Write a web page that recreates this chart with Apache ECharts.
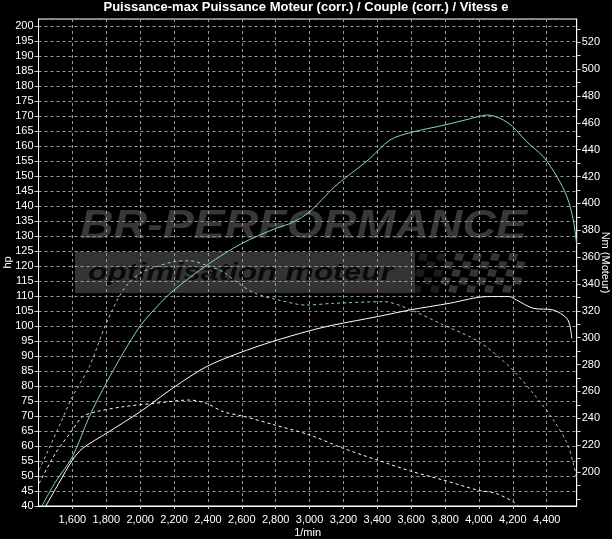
<!DOCTYPE html>
<html>
<head>
<meta charset="utf-8">
<script src="https://cdn.jsdelivr.net/npm/echarts@6/dist/echarts.min.js"></script>
<style>
html,body{margin:0;padding:0;background:#000;}
#chart{width:612px;height:539px;}
</style>
</head>
<body>
<div id="chart"></div>
<script>
// ---- data ----
const titleText = 'Puissance-max Puissance Moteur (corr.) / Couple (corr.) / Vitess e';

// tuned power (hp, left axis)
const rpmPowerTuned = [1420, 1500, 1600, 1700, 1800, 1900, 2000, 2100, 2200, 2400, 2600, 2800, 2900, 3000, 3150, 3350, 3475, 3600, 3800, 3930, 4050, 4125, 4200, 4280, 4380, 4460, 4520, 4557, 4577];
const hpPowerTuned  = [40, 48, 56.4, 69.8, 81, 91, 100, 106.5, 112, 120.5, 127.5, 132.5, 134.5, 138, 146.5, 155.5, 162, 164.5, 167, 168.8, 170.3, 169.2, 166.4, 161.5, 156.4, 149.8, 143, 135.3, 127];

// tuned torque (Nm, right axis)
const rpmTorqueTuned = [1404, 1500, 1600, 1700, 1800, 1900, 2000, 2100, 2200, 2290, 2390, 2490, 2580, 2680, 2820, 2980, 3140, 3440, 3600, 3790, 4000, 4180, 4320, 4440, 4520, 4560, 4577];
const nmTorqueTuned  = [201.5, 228, 256, 278.4, 310.7, 335.5, 348, 353, 356.6, 357.3, 354, 349, 340.5, 333, 328, 324.3, 325.6, 326.8, 320.6, 309.5, 297, 278.4, 258.6, 238.7, 221.4, 205, 194];

// stock power (hp, left axis)
const rpmPowerStock = [1443, 1520, 1600, 1660, 1800, 2000, 2190, 2390, 2580, 2780, 3000, 3140, 3400, 3590, 3830, 4050, 4180, 4220, 4320, 4440, 4518, 4538, 4548];
const hpPowerStock  = [40, 47.6, 55.3, 59.2, 64.2, 71.4, 79.2, 86.4, 90.9, 94.8, 98.4, 100.3, 103.1, 105.3, 107.6, 109.8, 109.8, 108.7, 105.9, 105.3, 102.6, 99.8, 95.9];

// stock torque (Nm, right axis)
const rpmTorqueStock = [1404, 1500, 1600, 1660, 1740, 1900, 2090, 2290, 2390, 2490, 2620, 2780, 3000, 3200, 3400, 3610, 3790, 3990, 4100, 4200, 4232];
const nmTorqueStock  = [191.6, 213.9, 231.3, 241.2, 244.9, 248.6, 251.2, 253.6, 251.2, 244.9, 241.2, 235.5, 227.6, 217.6, 208.9, 200.2, 194, 186.6, 184.1, 178, 174.7];

// axis ticks
const rightAxisLabels = [200, 220, 240, 260, 280, 300, 320, 340, 360, 380, 400, 420, 440, 460, 480, 500, 520];
const rightAxisTicks  = [180, 190, 200, 210, 220, 230, 240, 250, 260, 270, 280, 290, 300, 310, 320, 330, 340, 350, 360, 370, 380, 390, 400, 410, 420, 430, 440, 450, 460, 470, 480, 490, 500, 510, 520, 530];

// ---- chart ----
function pairs(xs, ys) { return xs.map((x, i) => [x, ys[i]]); }
function addCommas(v) { return String(Math.round(v)).replace(/\B(?=(\d{3})+(?!\d))/g, ','); }

const FONT = 'Liberation Sans Narrow, Liberation Sans, Arial, sans-serif';
const CYAN = '#86d3d0';

// watermark geometry helpers (decoration)
const mctx = document.createElement('canvas').getContext('2d');
function fitScale(text, font, width) { mctx.font = font; return width / mctx.measureText(text).width; }
const brFont = 'italic 900 40px "Liberation Sans", Arial, sans-serif';
const brScale = fitScale('BR-PERFORMANCE', brFont, 447);
const optFont = 'italic bold 24px "Liberation Sans", Arial, sans-serif';
const optScale = fitScale('optimisation moteur', optFont, 305);

const flag = [];
for (let r = 0; r < 5; r++) {
  for (let c = 0; c < 12; c++) {
    if ((r + c) % 2 === 0) {
      const x0 = 418 + c * 9 - r * 1.5;
      const y0 = 253 + r * 8;
      const fade = c < 3 ? 0.5 : 1;
      flag.push({
        type: 'polygon', silent: true, z: -10,
        shape: { points: [[x0 + 2, y0], [x0 + 10, y0 + 1], [x0 + 8, y0 + 8], [x0, y0 + 7]] },
        style: { fill: '#353535', opacity: fade }
      });
    }
  }
}

const chart = echarts.init(document.getElementById('chart'), null, { renderer: 'canvas' });
chart.setOption({
  animation: false,
  backgroundColor: '#000',
  title: {
    text: titleText, left: 'center', top: 1, padding: 0,
    textStyle: { color: '#fff', fontSize: 13, fontWeight: 'bold', fontFamily: FONT }
  },
  graphic: [
    { type: 'text', silent: true, z: -10, x: 80, y: 227, scaleX: brScale,
      style: { text: 'BR-PERFORMANCE', font: brFont, fill: '#383838', textVerticalAlign: 'middle' } },
    { type: 'rect', silent: true, z: -11, shape: { x: 75, y: 252, width: 340, height: 41 },
      style: { fill: '#333' } },
    { type: 'text', silent: true, z: -10, x: 88, y: 273, scaleX: optScale,
      style: { text: 'optimisation moteur', font: optFont, fill: '#0a0a0a', textVerticalAlign: 'middle' } }
  ].concat(flag),
  grid: {
    left: 38.5, right: 35.3, top: 19, bottom: 33, outerBoundsMode: 'none', containLabel: false,
    show: true, borderColor: '#fff', borderWidth: 1, backgroundColor: 'transparent'
  },
  xAxis: {
    type: 'value', min: 1400, max: 4577, interval: 200,
    name: '1/min', nameLocation: 'middle', nameGap: 21, nameMoveOverlap: false,
    nameTextStyle: { color: '#fff', fontSize: 11, fontFamily: FONT },
    axisLine: { lineStyle: { color: '#fff' } },
    axisTick: { show: true, length: 3, lineStyle: { color: '#ccc' } },
    axisLabel: { color: '#fff', fontSize: 11, fontFamily: FONT, margin: 8,
      showMinLabel: false, showMaxLabel: false, formatter: addCommas },
    splitLine: { show: true, lineStyle: { color: '#9a9a9a', type: [3, 3], width: 1 } }
  },
  yAxis: [
    {
      type: 'value', min: 40, max: 202.3, interval: 5, position: 'left',
      name: 'hp', nameLocation: 'middle', nameGap: 25, nameRotate: 90, nameMoveOverlap: false,
      nameTextStyle: { color: '#fff', fontSize: 11, fontFamily: FONT },
      axisLine: { show: true, lineStyle: { color: '#fff' } },
      axisTick: { show: true, length: 4, lineStyle: { color: '#ccc' } },
      axisLabel: { color: '#fff', fontSize: 11, fontFamily: FONT, margin: 5, showMaxLabel: false },
      splitLine: { show: true, lineStyle: { color: '#9a9a9a', type: [3, 3], width: 1 } }
    },
    {
      type: 'value', min: 174.7, max: 537.3, position: 'right',
      name: 'Nm (Moteur)', nameLocation: 'middle', nameGap: 23, nameRotate: -90, nameMoveOverlap: false,
      nameTextStyle: { color: '#fff', fontSize: 11, fontFamily: FONT },
      axisLine: { show: true, lineStyle: { color: '#fff' } },
      axisTick: { show: true, length: 4, customValues: rightAxisTicks, lineStyle: { color: '#ccc' } },
      axisLabel: { color: '#fff', fontSize: 11, fontFamily: FONT, margin: 5, customValues: rightAxisLabels },
      splitLine: { show: false }
    }
  ],
  series: [
    { type: 'line', name: 'Puissance Moteur', yAxisIndex: 0, data: pairs(rpmPowerStock, hpPowerStock),
      showSymbol: false, smooth: 0.3, lineStyle: { color: '#fff', width: 1 } },
    { type: 'line', name: 'Couple', yAxisIndex: 1, data: pairs(rpmTorqueStock, nmTorqueStock),
      showSymbol: false, smooth: 0.3, lineStyle: { color: '#fff', width: 1, type: [3, 3] } },
    { type: 'line', name: 'Couple (tuned)', yAxisIndex: 1, data: pairs(rpmTorqueTuned, nmTorqueTuned),
      showSymbol: false, smooth: 0.3, lineStyle: { color: CYAN, width: 1, type: [3, 3] } },
    { type: 'line', name: 'Puissance (tuned)', yAxisIndex: 0, data: pairs(rpmPowerTuned, hpPowerTuned),
      showSymbol: false, smooth: 0.3, lineStyle: { color: CYAN, width: 1 } }
  ]
});
</script>
</body>
</html>
